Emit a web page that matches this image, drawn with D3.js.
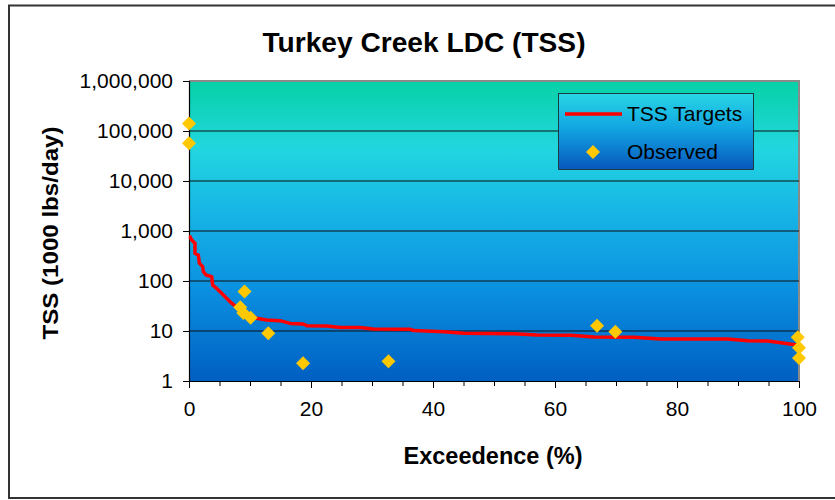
<!DOCTYPE html>
<html>
<head>
<meta charset="utf-8">
<script src="https://cdn.jsdelivr.net/npm/d3@7"></script>
<style>
  html, body { margin: 0; padding: 0; background: #fff; }
  svg { display: block; font-family: "Liberation Sans", Arial, sans-serif; }
</style>
</head>
<body>
<svg id="chart" width="835" height="500"></svg>
<script>
// Load duration curve: exceedance (%) and TSS target load (1000 lbs/day)
const targetExceedance = [0, 0.16, 0.44, 0.98, 0.98, 1.53, 1.7, 2.24, 2.35, 2.79, 3.72, 3.88, 4.54, 5.36, 6.17, 6.99, 7.81, 9.18, 10.0, 11.1, 12.7, 14.9, 16.6, 18.7, 19.3, 22.6, 24.8, 28.0, 30.2, 34.6, 36.3, 36.8, 41.8, 45, 53.3, 57.1, 62.6, 66.4, 73, 77.3, 88.3, 91.6, 94.9, 100];
const targetLoad = [780, 770, 661, 567, 357, 331, 226, 194, 154, 132, 122, 83, 71, 57, 45, 36, 30, 23, 20, 18, 16.6, 16.1, 14.2, 13.8, 12.8, 12.6, 11.8, 11.8, 11.0, 10.8, 10.8, 10.2, 9.7, 9.0, 8.8, 8.3, 8.2, 7.6, 7.5, 6.9, 6.9, 6.4, 6.3, 5.2];

// Observed samples
const observedExceedance = [0, 0, 9.1, 8.4, 8.9, 10.1, 13.0, 18.7, 32.7, 66.9, 69.9, 99.8, 100, 100];
const observedLoad = [142000, 56700, 62, 29.8, 23, 18.5, 9.0, 2.26, 2.48, 12.8, 9.7, 7.5, 4.6, 2.9];

const xTicks = [0, 20, 40, 60, 80, 100];
const xMinorTicks = d3.range(0, 101, 5);
const yTicks = [1, 10, 100, 1000, 10000, 100000, 1000000];

const titleText = "Turkey Creek LDC (TSS)";
const xTitle = "Exceedence (%)";
const yTitle = "TSS (1000 lbs/day)";
const seriesNames = ["TSS Targets", "Observed"];

const svg = d3.select("#chart");
const plot = { left: 189, right: 799, top: 81, bottom: 381 };

const x = d3.scaleLinear().domain([0, 100]).range([plot.left, plot.right]);
const y = d3.scaleLog().domain([1, 1000000]).range([plot.bottom, plot.top]);

const defs = svg.append("defs");
const bg = defs.append("linearGradient").attr("id", "plotBg")
  .attr("x1", 0).attr("y1", 0).attr("x2", 0).attr("y2", 1);
[["0%", "#06d1a6"], ["22%", "#22d6de"], ["45%", "#16b4e6"], ["70%", "#0a8fe0"], ["100%", "#005fc2"]]
  .forEach(([o, c]) => bg.append("stop").attr("offset", o).attr("stop-color", c));

const lg = defs.append("linearGradient").attr("id", "legendBg")
  .attr("x1", 0).attr("y1", 0).attr("x2", 0).attr("y2", 1);
[["0%", "#28d6e4"], ["45%", "#12a6e2"], ["100%", "#0857bd"]]
  .forEach(([o, c]) => lg.append("stop").attr("offset", o).attr("stop-color", c));

// outer chart frame
svg.append("rect")
  .attr("x", 9).attr("y", 5.5).attr("width", 840).attr("height", 492.5)
  .attr("fill", "none").attr("stroke", "#333").attr("stroke-width", 2);

// plot background
svg.append("rect")
  .attr("x", plot.left).attr("y", plot.top)
  .attr("width", plot.right - plot.left).attr("height", plot.bottom - plot.top)
  .attr("fill", "url(#plotBg)");

// plot border (top & right)
svg.append("path")
  .attr("d", `M${plot.left},${plot.top}H${plot.right}V${plot.bottom}`)
  .attr("fill", "none").attr("stroke", "#8a8a8a").attr("stroke-width", 2);

// horizontal gridlines
svg.append("g").selectAll("line")
  .data(yTicks.filter(v => v > 1 && v < 1000000))
  .join("line")
  .attr("x1", plot.left).attr("x2", plot.right)
  .attr("y1", d => y(d)).attr("y2", d => y(d))
  .attr("stroke", "#111").attr("stroke-width", 1);

// y axis
const yAxis = svg.append("g")
  .attr("transform", `translate(${plot.left},0)`)
  .call(d3.axisLeft(y).tickValues(yTicks).tickFormat(d3.format(",")).tickSize(6).tickPadding(10));
yAxis.select(".domain").attr("stroke", "#000").attr("stroke-width", 1.2);
yAxis.selectAll(".tick line").attr("stroke", "#000");
yAxis.selectAll("text").attr("font-size", 21).attr("font-family", "Liberation Sans, Arial, sans-serif").attr("fill", "#000");

// x axis: minor ticks every 5, labels every 20
const xMinor = svg.append("g")
  .attr("transform", `translate(0,${plot.bottom})`)
  .call(d3.axisBottom(x).tickValues(xMinorTicks).tickFormat("").tickSize(5).tickSizeOuter(0));
xMinor.select(".domain").remove();
xMinor.selectAll(".tick line").attr("stroke", "#000");

const xAxis = svg.append("g")
  .attr("transform", `translate(0,${plot.bottom})`)
  .call(d3.axisBottom(x).tickValues(xTicks).tickSize(7).tickSizeOuter(0).tickPadding(13));
xAxis.select(".domain").attr("stroke", "#000").attr("stroke-width", 1.2);
xAxis.selectAll(".tick line").attr("stroke", "#000");
xAxis.selectAll("text").attr("font-size", 21).attr("font-family", "Liberation Sans, Arial, sans-serif").attr("fill", "#000");

// target curve
const line = d3.line()
  .x((d, i) => x(targetExceedance[i]))
  .y(d => y(d));
svg.append("path")
  .datum(targetLoad)
  .attr("d", line)
  .attr("fill", "none")
  .attr("stroke", "#ff0000")
  .attr("stroke-width", 3.5)
  .attr("stroke-linejoin", "round");

// observed diamonds
const diamond = "M0,-7L7,0L0,7L-7,0Z";
svg.append("g").selectAll("path")
  .data(observedLoad)
  .join("path")
  .attr("d", diamond)
  .attr("transform", (d, i) => `translate(${x(observedExceedance[i])},${y(d)})`)
  .attr("fill", "#ffc800");

// title
svg.append("text")
  .attr("x", 424).attr("y", 52)
  .attr("text-anchor", "middle")
  .attr("font-size", 28).attr("font-weight", "bold")
  .attr("textLength", 323).attr("lengthAdjust", "spacingAndGlyphs")
  .text(titleText);

// axis titles
svg.append("text")
  .attr("x", 493).attr("y", 464)
  .attr("text-anchor", "middle")
  .attr("font-size", 23).attr("font-weight", "bold")
  .attr("textLength", 179).attr("lengthAdjust", "spacingAndGlyphs")
  .text(xTitle);

svg.append("text")
  .attr("transform", "translate(58,233) rotate(-90)")
  .attr("text-anchor", "middle")
  .attr("font-size", 22).attr("font-weight", "bold")
  .attr("textLength", 213).attr("lengthAdjust", "spacingAndGlyphs")
  .text(yTitle);

// legend
const legend = svg.append("g");
legend.append("rect")
  .attr("x", 558.5).attr("y", 93.5).attr("width", 195).attr("height", 76)
  .attr("fill", "url(#legendBg)").attr("stroke", "#1b3b40").attr("stroke-width", 1);
legend.append("line")
  .attr("x1", 565).attr("x2", 622).attr("y1", 114).attr("y2", 114)
  .attr("stroke", "#ff0000").attr("stroke-width", 3.5);
legend.append("path")
  .attr("d", diamond)
  .attr("transform", "translate(593,152)")
  .attr("fill", "#ffc800");
legend.append("text").attr("x", 627).attr("y", 121)
  .attr("font-size", 21).text(seriesNames[0]);
legend.append("text").attr("x", 627).attr("y", 159)
  .attr("font-size", 21).text(seriesNames[1]);
</script>
</body>
</html>
